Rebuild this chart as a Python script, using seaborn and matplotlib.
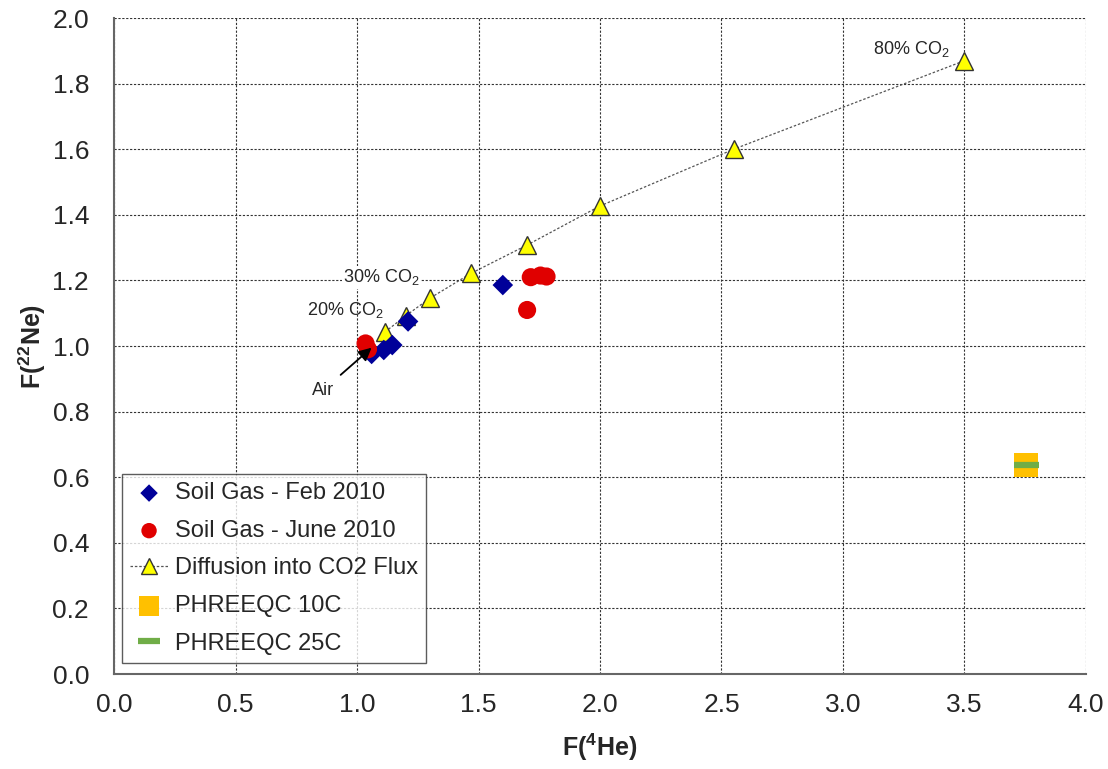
import matplotlib
matplotlib.use("Agg")
import matplotlib.pyplot as plt
import seaborn as sns

# ---- data ----
feb_he = [1.06, 1.11, 1.145, 1.21, 1.60]
feb_ne = [0.976, 0.988, 1.003, 1.075, 1.186]

june_he = [1.035, 1.045, 1.70, 1.715, 1.755, 1.78]
june_ne = [1.008, 0.99, 1.110, 1.210, 1.215, 1.212]

diff_he = [1.115, 1.20, 1.30, 1.47, 1.70, 2.00, 2.55, 3.50]
diff_ne = [1.043, 1.092, 1.146, 1.222, 1.308, 1.427, 1.600, 1.870]

phr10_he = [3.755]
phr10_ne = [0.637]
phr25_he = [3.755]
phr25_ne = [0.636]

sns.set_style("white")
plt.rcParams["font.family"] = ["Liberation Sans", "DejaVu Sans"]
plt.rcParams["mathtext.default"] = "regular"

fig = plt.figure(figsize=(11.08, 7.69), dpi=100)
ax = fig.add_axes([0.103, 0.1235, 0.877, 0.853])

# -------- series --------
sns.lineplot(x=diff_he, y=diff_ne, ax=ax, color="#555555", lw=0.9,
             linestyle=(0, (2, 1.5)), marker="^", markersize=13,
             markerfacecolor="#ffff00", markeredgecolor="#333333",
             markeredgewidth=1.0, label="Diffusion into CO2 Flux", zorder=3)
sns.scatterplot(x=feb_he, y=feb_ne, ax=ax, marker="D", s=110,
                color="#000099", edgecolor="none",
                label="Soil Gas - Feb 2010", zorder=4)
sns.scatterplot(x=june_he, y=june_ne, ax=ax, marker="o", s=170,
                color="#e00000", edgecolor="none",
                label="Soil Gas - June 2010", zorder=4)
sns.scatterplot(x=phr10_he, y=phr10_ne, ax=ax, marker="s", s=300,
                color="#ffc000", edgecolor="none",
                label="PHREEQC 10C", zorder=4)
sns.lineplot(x=phr25_he, y=phr25_ne, ax=ax, marker="_", markersize=18,
             markeredgewidth=4.5, color="#70ad47",
             markeredgecolor="#70ad47", linestyle="none",
             label="PHREEQC 25C", zorder=5)

# -------- annotations --------
ax.text(3.44, 1.875, "80% CO$_2$", fontsize=13, ha="right", va="bottom")
ax.text(1.10, 1.21, "30% CO$_2$", fontsize=13, ha="center", va="center",
        bbox=dict(facecolor="white", edgecolor="none", pad=1))
ax.text(0.95, 1.11, "20% CO$_2$", fontsize=13, ha="center", va="center")
ax.annotate("Air", xy=(1.06, 0.995), xytext=(0.86, 0.865),
            fontsize=13, ha="center", va="center", zorder=6,
            arrowprops=dict(arrowstyle="-|>,head_length=0.6,head_width=0.3",
                            color="black", lw=1.3, shrinkA=4, shrinkB=0))

# -------- axes --------
ax.set_xlim(0, 4)
ax.set_ylim(0, 2)
ax.set_xticks([i * 0.5 for i in range(9)])
ax.set_yticks([i * 0.2 for i in range(11)])
ax.xaxis.set_major_formatter(matplotlib.ticker.FormatStrFormatter("%.1f"))
ax.yaxis.set_major_formatter(matplotlib.ticker.FormatStrFormatter("%.1f"))
ax.tick_params(labelsize=19, direction="out", length=6, color="#666666")
ax.tick_params(axis="y", pad=12)
ax.tick_params(axis="x", pad=8)
ax.grid(True, color="#333333", linestyle=(0, (2, 1.5)), lw=0.8)
ax.set_axisbelow(True)
for side in ["top", "right"]:
    ax.spines[side].set_visible(False)
for side in ["left", "bottom"]:
    ax.spines[side].set_color("#666666")
    ax.spines[side].set_linewidth(1.5)

ax.set_xlabel("F($^{4}$He)", fontsize=18, fontweight="bold", labelpad=10)
ax.set_ylabel("F($^{22}$Ne)", fontsize=18, fontweight="bold", labelpad=3)

# -------- legend --------
h, l = ax.get_legend_handles_labels()
order = ["Soil Gas - Feb 2010", "Soil Gas - June 2010",
         "Diffusion into CO2 Flux", "PHREEQC 10C", "PHREEQC 25C"]
hd = dict(zip(l, h))
leg = ax.legend([hd[k] for k in order], order, loc="lower left",
                bbox_to_anchor=(0.008, 0.017), borderaxespad=0,
                fontsize=17, frameon=True, fancybox=False, markerscale=0.85,
                handlelength=1.6, labelspacing=0.66, borderpad=0.35,
                handletextpad=0.3)
leg.get_frame().set_edgecolor("#333333")
leg.get_frame().set_linewidth(1.0)

fig.savefig("out.png", dpi=100)
